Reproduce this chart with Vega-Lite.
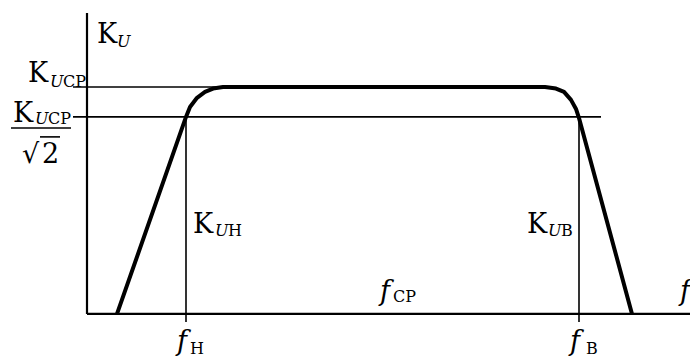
{
  "$schema": "https://vega.github.io/schema/vega-lite/v6.json",
  "width": 690,
  "height": 358,
  "autosize": {"type": "none"},
  "padding": 0,
  "config": {"view": {"stroke": null}},
  "datasets": {
    "curve": [
      {"x": 0.30, "y": 0},
      {"x": 0.99, "y": 0.868},
      {"x": 1.03, "y": 0.912},
      {"x": 1.10, "y": 0.952},
      {"x": 1.18, "y": 0.978},
      {"x": 1.26, "y": 0.993},
      {"x": 1.36, "y": 1.0},
      {"x": 1.45, "y": 1.0},
      {"x": 4.58, "y": 1.0},
      {"x": 4.69, "y": 0.993},
      {"x": 4.77, "y": 0.978},
      {"x": 4.84, "y": 0.943},
      {"x": 4.89, "y": 0.903},
      {"x": 4.92, "y": 0.863},
      {"x": 5.45, "y": 0}
    ],
    "segments": [
      {"kind": "axis", "x": 0, "x2": 0, "y": 0, "y2": 1.326},
      {"kind": "axis", "x": 0, "x2": 6.03, "y": 0, "y2": 0},
      {"kind": "guide", "x": -0.14, "x2": 1.45, "y": 1.0, "y2": 1.0},
      {"kind": "guide", "x": -0.14, "x2": 5.14, "y": 0.868, "y2": 0.868},
      {"kind": "guide", "x": 0.99, "x2": 0.99, "y": -0.035, "y2": 0.868},
      {"kind": "guide", "x": 4.92, "x2": 4.92, "y": -0.035, "y2": 0.868},
      {"kind": "guide", "x": -0.76, "x2": -0.16, "y": 0.819, "y2": 0.819},
      {"kind": "guide", "x": -0.47, "x2": -0.27, "y": 0.78, "y2": 0.78}
    ],
    "labels": [
      {"role": "main", "text": "K", "x": 0.10, "y": 1.194},
      {"role": "main", "text": "K", "x": -0.59, "y": 1.022},
      {"role": "main", "text": "K", "x": -0.74, "y": 0.846},
      {"role": "main", "text": "K", "x": 1.06, "y": 0.357},
      {"role": "main", "text": "K", "x": 4.40, "y": 0.357},
      {"role": "main", "text": "√", "x": -0.65, "y": 0.665},
      {"role": "main", "text": "2", "x": -0.45, "y": 0.665},
      {"role": "mainItalic", "text": "f", "x": 2.93, "y": 0.062},
      {"role": "mainItalic", "text": "f", "x": 5.93, "y": 0.062},
      {"role": "mainItalic", "text": "f", "x": 0.90, "y": -0.16},
      {"role": "mainItalic", "text": "f", "x": 4.83, "y": -0.16},
      {"role": "subItalic", "text": "U", "x": 0.30, "y": 1.176},
      {"role": "subItalic", "text": "U", "x": -0.37, "y": 1.0},
      {"role": "subItalic", "text": "U", "x": -0.52, "y": 0.837},
      {"role": "subItalic", "text": "U", "x": 1.28, "y": 0.344},
      {"role": "subItalic", "text": "U", "x": 4.61, "y": 0.344},
      {"role": "sub", "text": "CP", "x": -0.24, "y": 1.0},
      {"role": "sub", "text": "CP", "x": -0.39, "y": 0.837},
      {"role": "sub", "text": "H", "x": 1.41, "y": 0.344},
      {"role": "sub", "text": "B", "x": 4.74, "y": 0.344},
      {"role": "sub", "text": "CP", "x": 3.06, "y": 0.053},
      {"role": "sub", "text": "H", "x": 1.03, "y": -0.178},
      {"role": "sub", "text": "B", "x": 4.99, "y": -0.178}
    ]
  },
  "encoding": {
    "x": {"field": "x", "type": "quantitative", "scale": {"domain": [-0.87, 6.03], "nice": false, "zero": false}, "axis": null},
    "y": {"field": "y", "type": "quantitative", "scale": {"domain": [-0.194, 1.383], "nice": false, "zero": false}, "axis": null}
  },
  "layer": [
    {
      "data": {"name": "segments"},
      "transform": [{"filter": "datum.kind === 'axis'"}],
      "mark": {"type": "rule", "color": "black", "strokeWidth": 2.2},
      "encoding": {"x2": {"field": "x2"}, "y2": {"field": "y2"}}
    },
    {
      "data": {"name": "segments"},
      "transform": [{"filter": "datum.kind === 'guide'"}],
      "mark": {"type": "rule", "color": "black", "strokeWidth": 1.6},
      "encoding": {"x2": {"field": "x2"}, "y2": {"field": "y2"}}
    },
    {
      "data": {"name": "curve"},
      "mark": {"type": "line", "color": "black", "strokeWidth": 4, "interpolate": "linear", "strokeJoin": "round"},
      "encoding": {"order": {"field": "x", "type": "quantitative"}}
    },
    {
      "data": {"name": "labels"},
      "transform": [{"filter": "datum.role === 'main'"}],
      "mark": {"type": "text", "align": "left", "baseline": "alphabetic", "font": "DejaVu Serif", "fontSize": 27, "color": "black"},
      "encoding": {"text": {"field": "text"}}
    },
    {
      "data": {"name": "labels"},
      "transform": [{"filter": "datum.role === 'mainItalic'"}],
      "mark": {"type": "text", "align": "left", "baseline": "alphabetic", "font": "DejaVu Serif", "fontStyle": "italic", "fontSize": 27, "color": "black"},
      "encoding": {"text": {"field": "text"}}
    },
    {
      "data": {"name": "labels"},
      "transform": [{"filter": "datum.role === 'subItalic'"}],
      "mark": {"type": "text", "align": "left", "baseline": "alphabetic", "font": "DejaVu Serif", "fontStyle": "italic", "fontSize": 16, "color": "black"},
      "encoding": {"text": {"field": "text"}}
    },
    {
      "data": {"name": "labels"},
      "transform": [{"filter": "datum.role === 'sub'"}],
      "mark": {"type": "text", "align": "left", "baseline": "alphabetic", "font": "DejaVu Serif", "fontSize": 16, "color": "black"},
      "encoding": {"text": {"field": "text"}}
    }
  ]
}
